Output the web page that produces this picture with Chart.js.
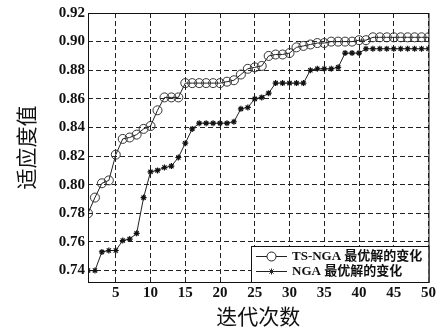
<!DOCTYPE html>
<html>
<head>
<meta charset="utf-8">
<script src="https://cdn.jsdelivr.net/npm/chart.js@4/dist/chart.umd.min.js"></script>
<style>
  html, body { margin: 0; padding: 0; background: #fff; }
  #wrap { width: 438px; height: 329px; }
</style>
</head>
<body>
<div id="wrap"><canvas id="fitChart" width="438" height="329"></canvas></div>
<script>
const iterations = [1,2,3,4,5,6,7,8,9,10,11,12,13,14,15,16,17,18,19,20,21,22,23,24,25,26,27,28,29,30,31,32,33,34,35,36,37,38,39,40,41,42,43,44,45,46,47,48,49,50];
const tsNga = [0.780,0.791,0.801,0.803,0.821,0.832,0.833,0.835,0.839,0.841,
               0.852,0.861,0.861,0.861,0.871,0.871,0.871,0.871,0.871,0.871,
               0.872,0.873,0.877,0.881,0.882,0.883,0.890,0.891,0.891,0.892,
               0.896,0.897,0.898,0.899,0.899,0.900,0.900,0.900,0.900,0.901,
               0.901,0.903,0.903,0.903,0.903,0.903,0.903,0.903,0.903,0.903];
const nga = [0.740,0.740,0.753,0.754,0.754,0.761,0.762,0.766,0.791,0.809,
             0.810,0.812,0.813,0.819,0.829,0.839,0.843,0.843,0.843,0.843,
             0.843,0.844,0.853,0.854,0.860,0.861,0.864,0.871,0.871,0.871,
             0.871,0.871,0.880,0.881,0.881,0.881,0.882,0.892,0.892,0.892,
             0.895,0.895,0.895,0.895,0.895,0.895,0.895,0.895,0.895,0.895];
const xTicks = [5,10,15,20,25,30,35,40,45,50];
const yTicks = [0.74,0.76,0.78,0.80,0.82,0.84,0.86,0.88,0.90,0.92];
const seriesNames = ['TS-NGA 最优解的变化', 'NGA 最优解的变化'];

const fontFamily = '"Liberation Serif", "Noto Sans CJK SC", serif';

// frame round the plot plus the legend box in the lower right corner
const framePlugin = {
  id: 'frame',
  afterDraw(chart) {
    const { ctx, chartArea: a } = chart;
    ctx.save();
    ctx.strokeStyle = '#111';
    ctx.lineWidth = 1;
    ctx.strokeRect(a.left + 0.5, a.top + 0.5, a.right - a.left, a.bottom - a.top);

    const bx = 251, by = 246, bw = a.right - bx, bh = a.bottom - by;
    ctx.fillStyle = '#fff';
    ctx.fillRect(bx, by, bw, bh);
    ctx.strokeRect(bx + 0.5, by + 0.5, bw, bh);

    const rows = [256.5, 271.5];
    chart.data.datasets.forEach((ds, i) => {
      const y = rows[i];
      ctx.strokeStyle = '#222';
      ctx.lineWidth = 1;
      ctx.beginPath();
      ctx.moveTo(256, y);
      ctx.lineTo(287, y);
      ctx.stroke();
      Chart.helpers.drawPoint(ctx, {
        pointStyle: ds.pointStyle,
        radius: ds.pointRadius,
        borderWidth: ds.pointBorderWidth,
        rotation: 0
      }, 271.5, y);
      ctx.fillStyle = '#111';
      ctx.font = 'bold 13px ' + fontFamily;
      ctx.textBaseline = 'middle';
      ctx.textAlign = 'left';
      ctx.fillText(ds.label, 292, y + 0.5);
    });
    ctx.restore();
  }
};

new Chart(document.getElementById('fitChart'), {
  type: 'line',
  data: {
    datasets: [
      {
        label: seriesNames[0],
        data: iterations.map((x, i) => ({ x, y: tsNga[i] })),
        borderColor: '#222', borderWidth: 1,
        pointStyle: 'circle', pointRadius: 4.5, pointBorderWidth: 1,
        pointBorderColor: '#333', pointBackgroundColor: 'rgba(255,255,255,0)',
        tension: 0, fill: false
      },
      {
        label: seriesNames[1],
        data: iterations.map((x, i) => ({ x, y: nga[i] })),
        borderColor: '#222', borderWidth: 1,
        pointStyle: 'star', pointRadius: 3, pointBorderWidth: 1.2,
        pointBorderColor: '#111', pointBackgroundColor: '#111',
        tension: 0, fill: false
      }
    ]
  },
  options: {
    responsive: false,
    animation: false,
    layout: { padding: { left: 0, right: 8, top: 13, bottom: 0 } },
    plugins: { legend: { display: false }, tooltip: { enabled: false } },
    scales: {
      x: {
        type: 'linear', min: 1, max: 50,
        afterBuildTicks: s => { s.ticks = xTicks.map(v => ({ value: v })); },
        afterFit: s => { s.height = 47; },
        grid: { color: '#222', lineWidth: 1, drawTicks: false },
        border: { display: false, dash: [5, 3] },
        ticks: { color: '#111', padding: 2, maxRotation: 0, font: { family: fontFamily, size: 15, weight: 'bold' } },
        title: { display: true, text: '迭代次数', color: '#111', padding: { top: 0, bottom: 0 },
                 font: { family: '"Noto Sans CJK SC", sans-serif', size: 21, lineHeight: 1.2 } }
      },
      y: {
        type: 'linear', min: 0.732, max: 0.92,
        afterBuildTicks: s => { s.ticks = yTicks.map(v => ({ value: v })); },
        afterFit: s => { s.width = 88; },
        grid: { color: '#222', lineWidth: 1, drawTicks: false },
        border: { display: false, dash: [5, 3] },
        ticks: { color: '#111', padding: 3, callback: v => v.toFixed(2), font: { family: fontFamily, size: 15, weight: 'bold' } },
        title: { display: true, text: '适应度值', color: '#111', padding: { top: 13, bottom: 0 },
                 font: { family: '"Noto Sans CJK SC", sans-serif', size: 21, lineHeight: 1.2 } }
      }
    }
  },
  plugins: [framePlugin]
});
</script>
</body>
</html>
